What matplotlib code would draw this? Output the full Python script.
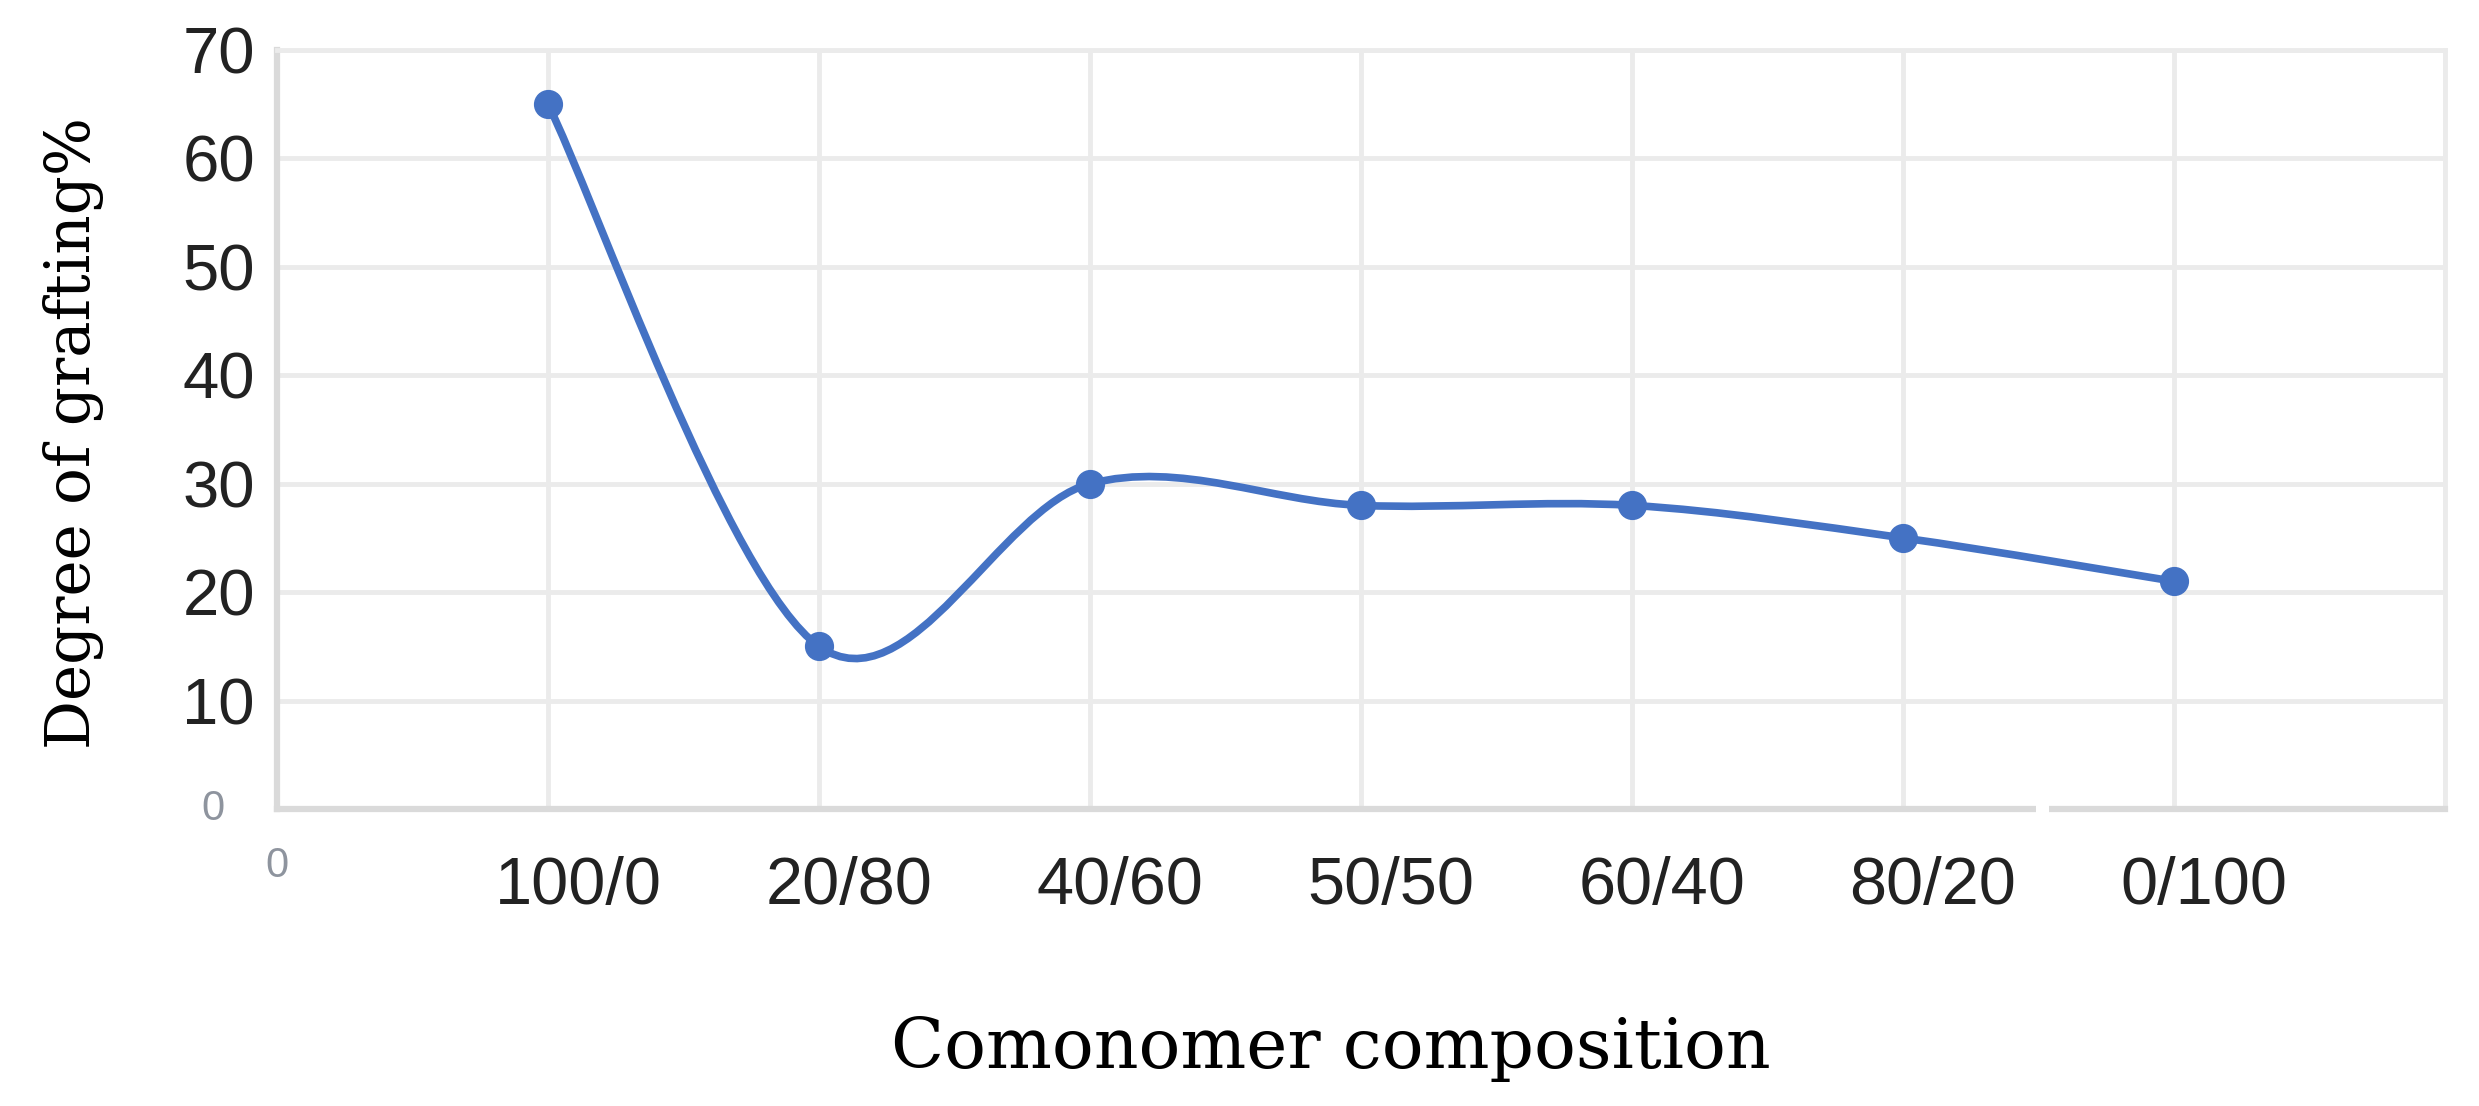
"""
Grau de enxerto (%) em funcao da composicao de comonomeros.
Linha suavizada estilo Excel (Bezier / Catmull-Rom) com marcadores.
"""
import matplotlib.pyplot as plt
import matplotlib.transforms as mtransforms
import numpy as np
from matplotlib.path import Path
from matplotlib.patches import PathPatch, Rectangle

# ====== DADOS ======
compositions = ['100/0', '20/80', '40/60', '50/50', '60/40', '80/20', '0/100']
grafting = [65, 15, 30, 28, 28, 25, 21]
y_ticks = [0, 10, 20, 30, 40, 50, 60, 70]
y_tick_labels = ['', '10', '20', '30', '40', '50', '60', '70']
# ===================

LINE_COLOR = '#4472C4'
GRID_COLOR = '#EBEBEB'
AXIS_COLOR = '#DADADA'
FAINT_COLOR = '#8E949E'
W, H = 2479, 1106


def smooth_path(xs, ys):
    # curva suave tipo Excel: Bezier cubica com tangentes de Catmull-Rom
    pts = np.column_stack([xs, ys]).astype(float)
    n = len(pts)
    verts = [pts[0]]
    codes = [Path.MOVETO]
    for i in range(n - 1):
        p_prev = pts[i - 1] if i > 0 else pts[i]
        p_after = pts[i + 2] if i + 2 < n else pts[i + 1]
        verts.append(pts[i] + (pts[i + 1] - p_prev) / 6)
        verts.append(pts[i + 1] - (p_after - pts[i]) / 6)
        verts.append(pts[i + 1])
        codes += [Path.CURVE4] * 3
    return Path(verts, codes)


x = np.arange(1, len(compositions) + 1)

fig = plt.figure(figsize=(W / 100, H / 100), dpi=100)
ax = fig.add_axes([277 / W, 1 - 809 / H, (2445 - 277) / W, (809 - 50) / H])

ax.set_xlim(0, len(compositions) + 1)
ax.set_ylim(y_ticks[0], y_ticks[-1])

ax.set_xticks(range(0, len(compositions) + 2))
ax.set_xticklabels([''] + compositions + [''], fontfamily='Liberation Sans', fontsize=48)
ax.set_yticks(y_ticks)
ax.set_yticklabels(y_tick_labels, fontfamily='Liberation Sans', fontsize=47)
ax.tick_params(axis='both', length=0, colors='#222222')
ax.tick_params(axis='x', pad=34)
ax.tick_params(axis='y', pad=16)

# rotulos do eixo x ficam um pouco deslocados para a direita na figura original
shift = mtransforms.ScaledTranslation(0.30, 0, fig.dpi_scale_trans)
for lbl in ax.get_xticklabels():
    lbl.set_transform(lbl.get_transform() + shift)

# os "0" da origem aparecem pequenos e apagados
ax.annotate('0', xy=(0, 0), xycoords='data', xytext=(-46, 0), textcoords='offset points',
            ha='center', va='center', fontsize=30, color=FAINT_COLOR,
            fontfamily='Liberation Sans', annotation_clip=False)
ax.annotate('0', xy=(0, 0), xycoords='data', xytext=(0, -41), textcoords='offset points',
            ha='center', va='center', fontsize=30, color=FAINT_COLOR,
            fontfamily='Liberation Sans', annotation_clip=False)

ax.grid(True, color=GRID_COLOR, linewidth=3.5)
ax.set_axisbelow(True)
for side in ['top', 'right']:
    ax.spines[side].set_color(GRID_COLOR)
    ax.spines[side].set_linewidth(3.5)
for side in ['left', 'bottom']:
    ax.spines[side].set_color(AXIS_COLOR)
    ax.spines[side].set_linewidth(4.5)

# pequena falha no eixo inferior (como na imagem)
ax.add_patch(Rectangle((6.49, -0.7), 0.05, 1.4, facecolor='white', edgecolor='none',
                       clip_on=False, zorder=5))

ax.add_patch(PathPatch(smooth_path(x, grafting), fill=False, edgecolor=LINE_COLOR,
                       linewidth=5.5, capstyle='round', zorder=3))
ax.plot(x, grafting, 'o', markersize=20, color=LINE_COLOR, zorder=4)

ax.set_ylabel('Degree of grafting%', fontfamily='DejaVu Serif', fontsize=44)
ax.yaxis.set_label_coords(-0.080, 0.495)
ax.set_xlabel('Comonomer composition', fontfamily='DejaVu Serif', fontsize=50)
ax.xaxis.set_label_coords(0.486, -0.272)

fig.savefig('out.png', dpi=100)
plt.close(fig)
